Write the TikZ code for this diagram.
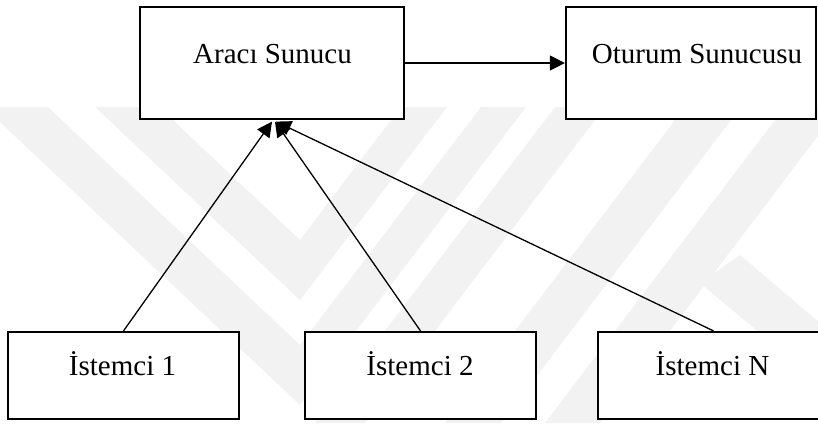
\documentclass[tikz,border=0pt]{standalone}
\usepackage{fontspec}
\setmainfont{Liberation Serif}
\usetikzlibrary{arrows.meta,calc}
\tikzset{
  box/.style={draw=black, line width=2.2bp, fill=white, rectangle, inner sep=0pt},
  lbl/.style={font=\fontsize{29bp}{34bp}\selectfont, inner sep=0pt, anchor=base},
  conn/.style={draw=black, line width=1.3bp, -{Triangle[length=15bp,width=15bp]}},
  wm/.style={fill=black!5, draw=none}
}
\begin{document}
\begin{tikzpicture}[x=1bp,y=-1bp]
\useasboundingbox (0,0) rectangle (818,423);
\clip (0,0) rectangle (818,423);
% faint watermark
\fill[wm] (95,107) -- (159,107) -- (300,240) -- (401,107) -- (447,107) -- (300,300) -- cycle;
\fill[wm] (-16,107) -- (48,107) -- (300,345) -- (481,107) -- (526,107) -- (300,405) -- cycle;
\fill[wm] (555,107) -- (605,107) -- (365,423) -- (315,423) -- cycle;
\fill[wm] (685,107) -- (741,107) -- (501,423) -- (445,423) -- cycle;
\fill[wm] (785,107) -- (840,107) -- (600,423) -- (545,423) -- cycle;
\fill[wm] (700,283) -- (740,255) -- (840,340) -- (840,400) -- cycle;
% boxes
\node[box, minimum width=264bp, minimum height=112bp] (a) at (272,63) {};
\node[box, minimum width=250bp, minimum height=112bp] (o) at (691,63) {};
\node[box, minimum width=231bp, minimum height=87bp] (i1) at (123.5,375.5) {};
\node[box, minimum width=231bp, minimum height=87bp] (i2) at (420.5,375.5) {};
\node[box, minimum width=231bp, minimum height=87bp] (iN) at (713.5,375.5) {};
% texts
\node[lbl] (ta) at (272.5,63) {Aracı Sunucu};
\node[lbl] (to) at (697,63) {Oturum Sunucusu};
\node[lbl] (t1) at (122.5,375) {İstemci 1};
\node[lbl] (t2) at (420,375) {İstemci 2};
\node[lbl] (tN) at (712.5,375) {İstemci N};
% connectors
\coordinate (p1) at ($(a.south)+(0,1.5)$);
\coordinate (p2) at ($(a.south)+(3,1.5)$);
\coordinate (p3) at ($(a.south)+(4,1.5)$);
\draw[conn] (a.east) -- (o.west);
\draw[conn] (i1.north) -- (p1);
\draw[conn] (i2.north) -- (p2);
\draw[conn] (iN.north) -- (p3);
\end{tikzpicture}
\end{document}
